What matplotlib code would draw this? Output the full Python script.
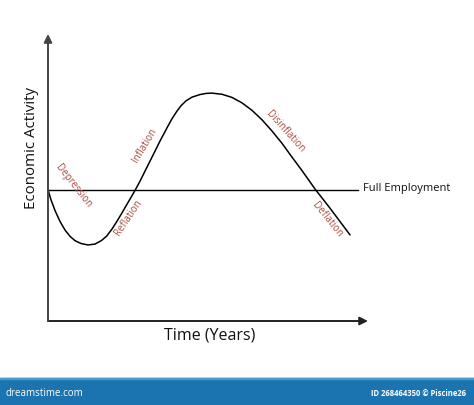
import matplotlib
matplotlib.use("Agg")
import matplotlib.pyplot as plt
from matplotlib.patches import Rectangle

plt.rcParams['font.family'] = ['Open Sans', 'DejaVu Sans']

# business cycle curve (time in years, activity level)
time_pts = [0.0, 0.094, 0.219, 0.375, 0.531, 0.688, 0.844, 1.031, 1.25, 1.469,
            1.678, 1.834, 1.991, 2.147, 2.303, 2.459, 2.616, 2.734, 2.875, 3.084,
            3.291, 3.5, 3.709, 3.866, 4.022, 4.156, 4.313, 4.5, 4.75, 4.938,
            5.125, 5.438, 5.75, 6.063, 6.375, 6.688, 7.0, 7.313, 7.625, 7.938,
            8.344, 8.813, 9.438]
activity = [4.58, 4.22, 3.85, 3.47, 3.17, 2.95, 2.80, 2.70, 2.65, 2.68,
            2.81, 2.96, 3.19, 3.46, 3.75, 4.05, 4.35, 4.58, 4.87, 5.34,
            5.80, 6.27, 6.71, 7.03, 7.30, 7.50, 7.67, 7.80, 7.89, 7.93,
            7.94, 7.90, 7.79, 7.60, 7.34, 7.01, 6.62, 6.19, 5.71, 5.24,
            4.60, 3.93, 3.00]

full_employment = 4.58
fe_end = 9.68

phase_names = ["Depression", "Reflation", "Inflation", "Disinflation", "Deflation"]
phase_x = [0.79, 2.50, 3.03, 7.41, 8.71]
phase_y = [4.71, 3.59, 6.11, 6.59, 3.54]
phase_rot = [-52, 56, 59, -48, -51]

red = '#a84a3f'

fig = plt.figure(figsize=(4.74, 4.05), dpi=100)
ax = fig.add_axes([48 / 474, 84 / 405, 320 / 474, 287 / 405])
ax.set_xlim(0, 10)
ax.set_ylim(0, 10)
ax.axis('off')

# axes with arrow heads
ax.annotate('', xy=(10, 0), xytext=(0, 0), annotation_clip=False,
            arrowprops=dict(arrowstyle='-|>', color='#222222', lw=1.4,
                            mutation_scale=12, shrinkA=0, shrinkB=0))
ax.annotate('', xy=(0, 10), xytext=(0, 0), annotation_clip=False,
            arrowprops=dict(arrowstyle='-|>', color='#444444', lw=1.4,
                            mutation_scale=12, shrinkA=0, shrinkB=0))

ax.plot([0, fe_end], [full_employment, full_employment], color='black', lw=1.0,
        clip_on=False)
ax.text(fe_end + 0.16, full_employment + 0.05, 'Full Employment', fontsize=8,
        ha='left', va='center', color='#111111')

ax.plot(time_pts, activity, color='black', lw=1.1, solid_joinstyle='round',
        solid_capstyle='round', clip_on=False)

for name, x, y, r in zip(phase_names, phase_x, phase_y, phase_rot):
    ax.text(x, y, name, rotation=r, rotation_mode='anchor', fontsize=7,
            color=red, ha='center', va='center')

ax.text(-0.53, 6.03, 'Economic Activity', rotation=90, fontsize=10.8,
        ha='center', va='center', color='#111111')
ax.text(5.06, -0.52, 'Time (Years)', fontsize=11.5, ha='center', va='center',
        color='#111111')

# footer bar
fig.patches.append(Rectangle((0, 0), 1, 27 / 405, transform=fig.transFigure,
                             color='#1b74b0', zorder=0))
fig.patches.append(Rectangle((0, 26 / 405), 1, 1.5 / 405, transform=fig.transFigure,
                             color='#4a98cc', zorder=0))
fig.text(6 / 474, 12 / 405, 'dreamstime.com', color='white', fontsize=7,
         ha='left', va='center')
fig.text(466 / 474, 12 / 405, 'ID 268464350 \u00a9 Piscine26', color='white',
         fontsize=5.5, fontweight='bold', ha='right', va='center')

fig.savefig('out.png', dpi=100)
